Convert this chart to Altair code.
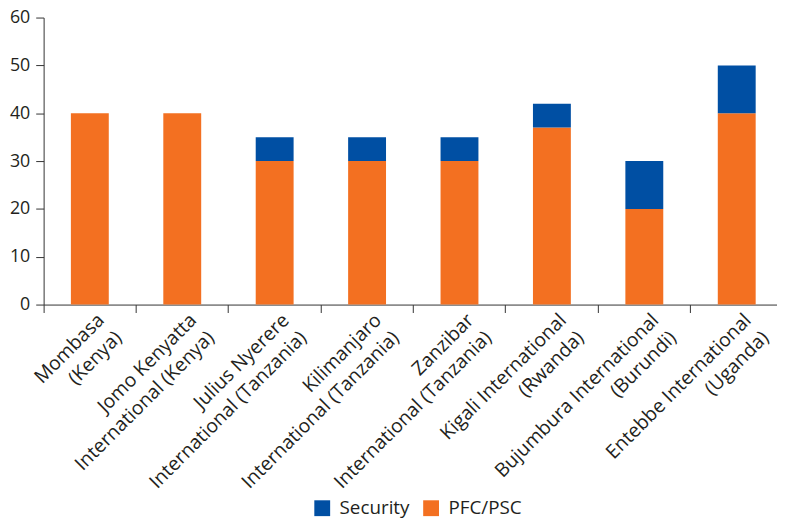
import altair as alt
import pandas as pd

airports = [
    "Mombasa\n(Kenya)",
    "Jomo Kenyatta\nInternational (Kenya)",
    "Julius Nyerere\nInternational (Tanzania)",
    "Kilimanjaro\nInternational (Tanzania)",
    "Zanzibar\nInternational (Tanzania)",
    "Kigali International\n(Rwanda)",
    "Bujumbura International\n(Burundi)",
    "Entebbe International\n(Uganda)",
]
pfc_psc = [40, 40, 30, 30, 30, 37, 20, 40]
security = [0, 0, 5, 5, 5, 5, 10, 10]

series = ["Security", "PFC/PSC"]
colors = ["#004fa3", "#f37021"]

rows = []
for a, p, s in zip(airports, pfc_psc, security):
    rows.append({"airport": a, "series": "PFC/PSC", "value": p, "order": 0})
    rows.append({"airport": a, "series": "Security", "value": s, "order": 1})
df = pd.DataFrame(rows)

FONT = "Open Sans"
TXT = "#231f20"
AX = "#333333"

chart = alt.Chart(df).mark_bar(width=alt.RelativeBandSize(0.41)).encode(
    x=alt.X(
        "airport:N",
        sort=airports,
        scale=alt.Scale(paddingInner=0, paddingOuter=0, range=[0, 747]),
        axis=alt.Axis(
            title=None,
            bandPosition=0,
            labelOffset=5,
            labelAngle=-45,
            labelAlign="right",
            labelBaseline="top",
            labelExpr="split(datum.label, '\\n')",
            labelFont=FONT,
            labelFontSize=19.5,
            labelColor=TXT,
            labelLineHeight=25,
            labelPadding=-2,
            labelLimit=0,
            tickSize=8,
            tickColor=AX,
            domainColor=AX,
            labelOverlap=False,
            labelBound=False,
            labelFlush=False,
        ),
    ),
    y=alt.Y(
        "value:Q",
        stack="zero",
        scale=alt.Scale(domain=[0, 60], nice=False),
        axis=alt.Axis(
            title=None,
            values=[0, 10, 20, 30, 40, 50, 60],
            grid=False,
            labelFont=FONT,
            labelFontSize=18,
            labelColor=TXT,
            labelPadding=6,
            tickSize=8,
            tickColor=AX,
            domainColor=AX,
        ),
    ),
    color=alt.Color(
        "series:N",
        scale=alt.Scale(domain=series, range=colors),
        legend=alt.Legend(
            title=None,
            orient="none",
            direction="horizontal",
            legendX=272,
            legendY=486,
            symbolType="square",
            symbolSize=256,
            symbolStrokeWidth=0,
            symbolOpacity=1,
            labelFont=FONT,
            labelFontSize=19,
            labelColor=TXT,
            labelOffset=8,
            columnPadding=12,
        ),
    ),
    order=alt.Order("order:Q"),
).properties(
    width=741,
    height=290,
    padding={"left": 36, "top": 7, "right": 0, "bottom": 215},
    autosize=alt.AutoSizeParams(type="none"),
).configure_view(stroke=None)

chart.save("out.html", embed_options={"renderer": "svg", "actions": False})
